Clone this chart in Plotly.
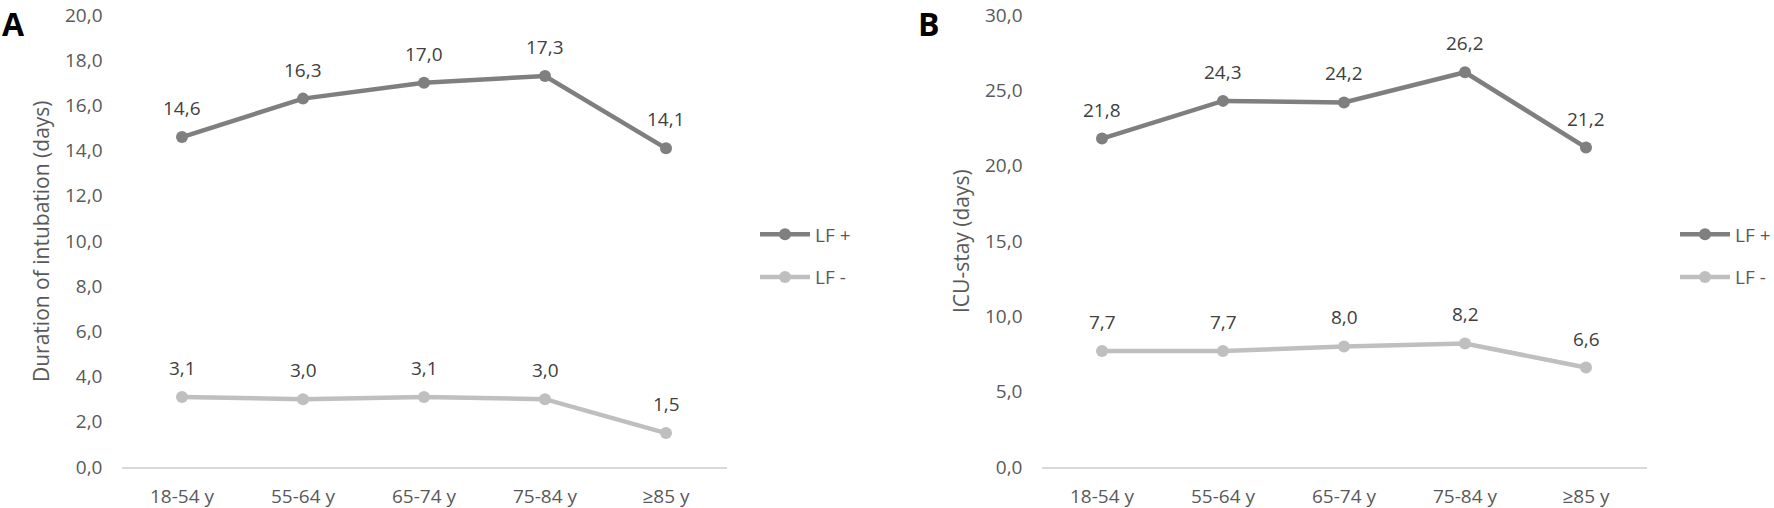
import plotly.graph_objects as go

# categories and values
categories = ["18-54 y", "55-64 y", "65-74 y", "75-84 y", "≥85 y"]
series_names = ["LF +", "LF -"]
intubation_lf_pos = [14.6, 16.3, 17.0, 17.3, 14.1]
intubation_lf_neg = [3.1, 3.0, 3.1, 3.0, 1.5]
icu_lf_pos = [21.8, 24.3, 24.2, 26.2, 21.2]
icu_lf_neg = [7.7, 7.7, 8.0, 8.2, 6.6]
y_ticks_a = [0, 2, 4, 6, 8, 10, 12, 14, 16, 18, 20]
y_ticks_b = [0, 5, 10, 15, 20, 25, 30]

W, H = 1774, 508
DARK = "#7f7f7f"
LIGHT = "#bfbfbf"
TEXT = "#595959"
LABEL = "#404040"
FONT = "Open Sans"


def fx(p):
    """pixel x -> paper fraction"""
    return p / W


def fy(p):
    """pixel y (from top) -> paper fraction"""
    return 1 - p / H


def add_panel(fig, n, values_pos, values_neg, legend_name):
    """Add the two LF lines of one panel plus their value labels."""
    xa = "x" if n == 1 else "x%d" % n
    ya = "y" if n == 1 else "y%d" % n
    for name, vals, color in [(series_names[0], values_pos, DARK),
                              (series_names[1], values_neg, LIGHT)]:
        fig.add_trace(
            go.Scatter(
                x=categories,
                y=vals,
                name=name,
                mode="lines+markers",
                line=dict(color=color, width=4.5),
                marker=dict(color=color, size=12),
                xaxis=xa,
                yaxis=ya,
                legend=legend_name,
                legendgroup=name + legend_name,
            )
        )
        for c, v in zip(categories, vals):
            fig.add_annotation(
                x=c, y=v, xref=xa, yref=ya,
                text=f"{v:.1f}".replace(".", ","),
                showarrow=False,
                yshift=29,
                font=dict(family=FONT, size=19, color=LABEL),
            )


fig = go.Figure()
add_panel(fig, 1, intubation_lf_pos, intubation_lf_neg, "legend")
add_panel(fig, 2, icu_lf_pos, icu_lf_neg, "legend2")

y_dom = [fy(467), fy(15)]
xaxis_style = dict(
    type="category",
    range=[-0.5, len(categories) - 0.5],
    showline=True,
    linecolor="#d9d9d9",
    linewidth=2,
    showgrid=False,
    zeroline=False,
    ticks="",
    ticklabelstandoff=11,
    automargin=False,
    tickfont=dict(family=FONT, size=19, color=TEXT),
    fixedrange=True,
)
yaxis_style = dict(
    showline=False,
    showgrid=False,
    zeroline=False,
    ticks="",
    tickformat=".1f",
    ticklabelstandoff=18,
    automargin=False,
    tickfont=dict(family=FONT, size=19, color=TEXT),
    fixedrange=True,
)
legend_style = dict(
    font=dict(family=FONT, size=19, color=TEXT),
    bgcolor="rgba(0,0,0,0)",
    itemwidth=50,
    tracegroupgap=15,
    traceorder="grouped",
    yanchor="middle",
    xanchor="left",
    y=fy(256),
)

fig.update_layout(
    width=W,
    height=H,
    margin=dict(l=0, r=0, t=0, b=0, autoexpand=False),
    paper_bgcolor="white",
    plot_bgcolor="white",
    separators=",.",
    font=dict(family=FONT, color=TEXT),
    xaxis=dict(domain=[fx(121.5), fx(726.5)], anchor="y", **xaxis_style),
    yaxis=dict(domain=y_dom, anchor="x", range=[0, 20], tickvals=y_ticks_a, **yaxis_style),
    xaxis2=dict(domain=[fx(1041.5), fx(1646.5)], anchor="y2", **xaxis_style),
    yaxis2=dict(domain=y_dom, anchor="x2", range=[0, 30], tickvals=y_ticks_b, **yaxis_style),
    legend=dict(x=fx(755), **legend_style),
    legend2=dict(x=fx(1675), **legend_style),
    showlegend=True,
)

# panel letters and axis titles
for letter, x in [("A", 0), ("B", 916)]:
    fig.add_annotation(
        x=fx(x), y=1, xref="paper", yref="paper",
        xanchor="left", yanchor="top",
        text="<b>%s</b>" % letter, showarrow=False,
        font=dict(family=FONT, size=32, color="black"),
    )
for title, x, y in [("Duration of intubation (days)", 41, 241),
                    ("ICU-stay (days)", 961, 241)]:
    fig.add_annotation(
        x=fx(x), y=fy(y), xref="paper", yref="paper",
        xanchor="center", yanchor="middle",
        text=title, textangle=-90, showarrow=False,
        font=dict(family=FONT, size=21, color=TEXT),
    )

fig.write_html("out.html", post_script="document.body.style.margin='0';",
               config={"displayModeBar": False})
